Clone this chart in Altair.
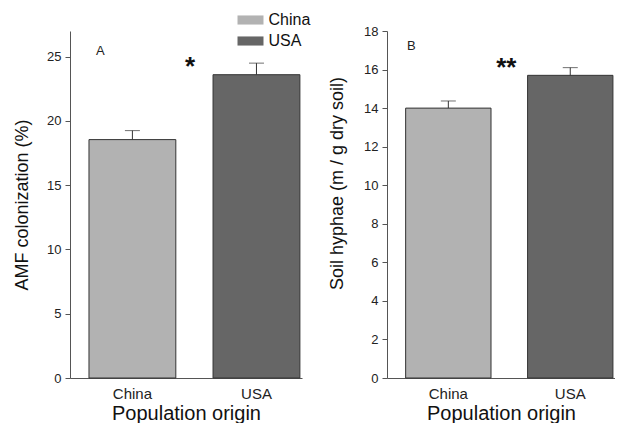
import altair as alt
import pandas as pd

origins = ["China", "USA"]
amf_mean = [18.55, 23.6]
amf_se = [0.7, 0.9]
hyphae_mean = [14.0, 15.7]
hyphae_se = [0.37, 0.4]
colors = ["#b2b2b2", "#666666"]

panel_labels = ["A", "B"]
sig_labels = ["*", "**"]

FONT = "Liberation Sans"

df_a = pd.DataFrame({"origin": origins, "mean": amf_mean,
                     "top": [m + s for m, s in zip(amf_mean, amf_se)]})
df_b = pd.DataFrame({"origin": origins, "mean": hyphae_mean,
                     "top": [m + s for m, s in zip(hyphae_mean, hyphae_se)]})

xscale = alt.Scale(domain=origins, paddingInner=0.3, paddingOuter=0.085, align=0.9)
cscale = alt.Scale(domain=origins, range=colors)

rect_path = "M-2,-0.7L2,-0.7L2,0.7L-2,0.7Z"


def panel(df, ymax, ytitle, ticks, title_y, title_pad, label, label_val, label_dx,
          sig, sig_val, sig_dx, legend, width):
    xax = alt.Axis(title="Population origin", labelAngle=0, ticks=False,
                   labelFontSize=15, labelPadding=8, titleFontSize=20,
                   titlePadding=2, titleFontWeight="normal")
    yaxis_kwargs = dict(title=ytitle, values=ticks, grid=False, tickSize=5,
                        labelFontSize=13, labelPadding=4, titleFontSize=18,
                        titleFontWeight="normal", titlePadding=title_pad,
                        labelOverlap=False)
    if title_y is not None:
        yaxis_kwargs["titleY"] = title_y
    yax = alt.Axis(**yaxis_kwargs)
    ysc = alt.Scale(domain=[0, ymax], nice=False)

    def X():
        return alt.X("origin:N", scale=xscale, sort=origins, axis=xax)

    if legend:
        col = alt.Color("origin:N", scale=cscale, sort=origins,
                        legend=alt.Legend(title=None, orient="none", legendX=172.5,
                                          legendY=-19, symbolType=rect_path,
                                          symbolSize=169, symbolStrokeWidth=0,
                                          labelFontSize=16, rowPadding=5,
                                          labelOffset=10))
    else:
        col = alt.Color("origin:N", scale=cscale, sort=origins, legend=None)
    bars = alt.Chart(df).mark_bar(stroke="#333333", strokeWidth=1).encode(
        x=X(), y=alt.Y("mean:Q", scale=ysc, axis=yax), color=col)
    err = alt.Chart(df).mark_rule(color="#333333", strokeWidth=1).encode(
        x=X(), y=alt.Y("mean:Q", scale=ysc, axis=yax), y2="top:Q")
    cap = alt.Chart(df).mark_tick(color="#333333", thickness=1, size=15).encode(
        x=X(), y=alt.Y("top:Q", scale=ysc, axis=yax))
    lab_df = pd.DataFrame({"origin": [origins[0]], "v": [label_val], "t": [label]})
    lab = alt.Chart(lab_df).mark_text(fontSize=13, dx=label_dx, baseline="middle",
                                      font=FONT, color="#222222").encode(
        x=X(), y=alt.Y("v:Q", scale=ysc, axis=yax), text="t:N")
    sig_df = pd.DataFrame({"origin": [origins[1]], "v": [sig_val], "t": [sig]})
    star = alt.Chart(sig_df).mark_text(fontSize=26, fontWeight="bold", dx=sig_dx,
                                       baseline="top", font=FONT, color="#111111").encode(
        x=X(), y=alt.Y("v:Q", scale=ysc, axis=yax), text="t:N")
    return alt.layer(bars, err, cap, lab, star).properties(width=width, height=347)


pa = panel(df_a, 27, "AMF colonization (%)", [0, 5, 10, 15, 20, 25], None, 15.5,
           panel_labels[0], 25.43, -32, sig_labels[0], 25.22, -66.5, True, 232)
pb = panel(df_b, 18, "Soil hyphae (m / g dry soil)", list(range(0, 19, 2)), 152, 17.5,
           panel_labels[1], 17.2, -37, sig_labels[1], 16.75, -64, False, 228)

chart = alt.hconcat(pa, pb, spacing=26).properties(
    padding={"left": 5, "top": 4, "right": 0, "bottom": 0}
).configure(font=FONT).configure_view(
    stroke=None).configure_axis(domainColor="#555555", tickColor="#555555",
                                labelColor="#222222", titleColor="#111111",
                                labelFont=FONT, titleFont=FONT).configure_legend(
    labelFont=FONT, labelColor="#111111")

chart.save("out.html", embed_options={"renderer": "svg", "actions": False})
